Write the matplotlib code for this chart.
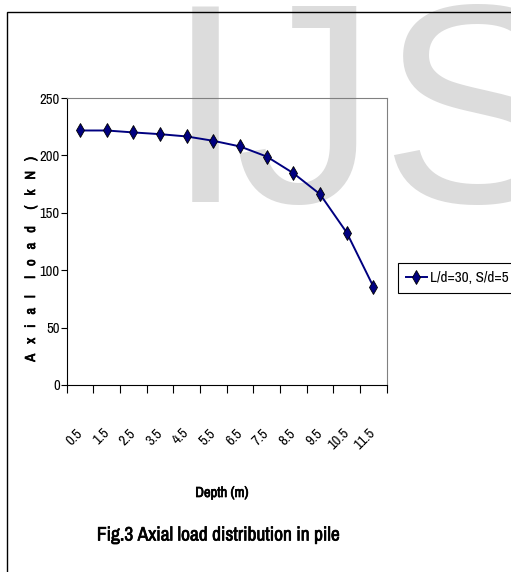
import matplotlib.pyplot as plt
import matplotlib.patheffects as pe
from matplotlib.patches import Rectangle
from matplotlib import font_manager


def weight_num(w):
    if isinstance(w, str):
        return font_manager.weight_dict.get(w, 400)
    return w


# narrow sans face for an Arial Narrow look
fam = None
for f in font_manager.fontManager.ttflist:
    if 'Narrow' in f.name or ('Condensed' in f.name and 'Semi' not in f.name):
        fam = f.name
        break
if fam is None:
    fam = 'Liberation Sans'
has_bold = any(f.name == fam and weight_num(f.weight) >= 600
               for f in font_manager.fontManager.ttflist)
plt.rcParams['font.family'] = [fam, 'DejaVu Sans']


def bold_kw():
    if has_bold:
        return dict(fontweight='bold')
    return dict(path_effects=[pe.withStroke(linewidth=0.5, foreground='black')])


depth = ['0.5', '1.5', '2.5', '3.5', '4.5', '5.5', '6.5', '7.5', '8.5', '9.5', '10.5', '11.5']
load = [221.7, 221.7, 220.0, 218.5, 216.5, 212.7, 207.8, 199.0, 184.5, 166.2, 132.8, 85.7]
series_name = 'L/d=30, S/d=5'

W, H = 511, 572
fig = plt.figure(figsize=(W / 100, H / 100), dpi=100)

# watermark letters behind the chart
wm = dict(fontsize=205, color='#dcdcdc', family='Liberation Sans',
          zorder=-5, va='baseline', ha='center')
fig.text(205.5 / W, 1 - 202 / H, 'I', **wm)
fig.text(306 / W, 1 - 202 / H, 'J', **wm)
fig.text(475 / W, 1 - 202 / H, 'S', **wm)

# outer frame (left + top edges visible)
fig.add_artist(Rectangle((7 / W, -0.2), 1.2, 1.2 - 11.5 / H,
                         transform=fig.transFigure, fill=False, ec='black', lw=1.0))

ax = fig.add_axes([66.7 / W, 1 - 385 / H, 320 / W, 287 / H])
ax.set_facecolor('none')

x = [i + 0.5 for i in range(len(depth))]
ax.plot(x, load, color='#000080', lw=1.4, marker='d', markersize=7,
        markerfacecolor='#000080', markeredgecolor='black', markeredgewidth=0.6,
        label=series_name)

ax.set_xlim(0, len(depth))
ax.set_ylim(0, 250)
ax.set_yticks(range(0, 251, 50))
ax.tick_params(axis='y', direction='out', length=4, width=0.8, labelsize=10.5, pad=1)

ax.set_xticks(range(0, len(depth) + 1))
ax.set_xticklabels([])
ax.tick_params(axis='x', which='major', direction='out', length=6, width=0.8)
ax.set_xticks(x, minor=True)
ax.set_xticklabels(depth, minor=True, rotation=45, ha='right', va='center',
                   rotation_mode='anchor', fontsize=10.5)
ax.tick_params(axis='x', which='minor', length=0, pad=33)

for s in ['top', 'right']:
    ax.spines[s].set_color('#808080')
for s in ['left', 'bottom']:
    ax.spines[s].set_color('black')

fig.text(31 / W, 1 - 258 / H, 'A   x   i   a   l     l   o   a   d     (   k   N   )',
         rotation=90, ha='center', va='center', fontsize=10.5, **bold_kw())
fig.text(222 / W, 1 - 493 / H, 'Depth (m)', ha='center', va='center',
         fontsize=10.5, **bold_kw())
fig.text(218 / W, 1 - 535 / H, 'Fig.3 Axial load distribution in pile',
         ha='center', va='center', fontsize=14, **bold_kw())

leg = ax.legend(loc='center left', bbox_to_anchor=(398 / W, 1 - 278 / H),
                bbox_transform=fig.transFigure, fontsize=11, frameon=True,
                fancybox=False, edgecolor='black', framealpha=1,
                handlelength=1.4, handletextpad=0.2, borderpad=0.5,
                borderaxespad=0)
leg.get_frame().set_linewidth(0.8)

fig.savefig('out.png', dpi=100)
